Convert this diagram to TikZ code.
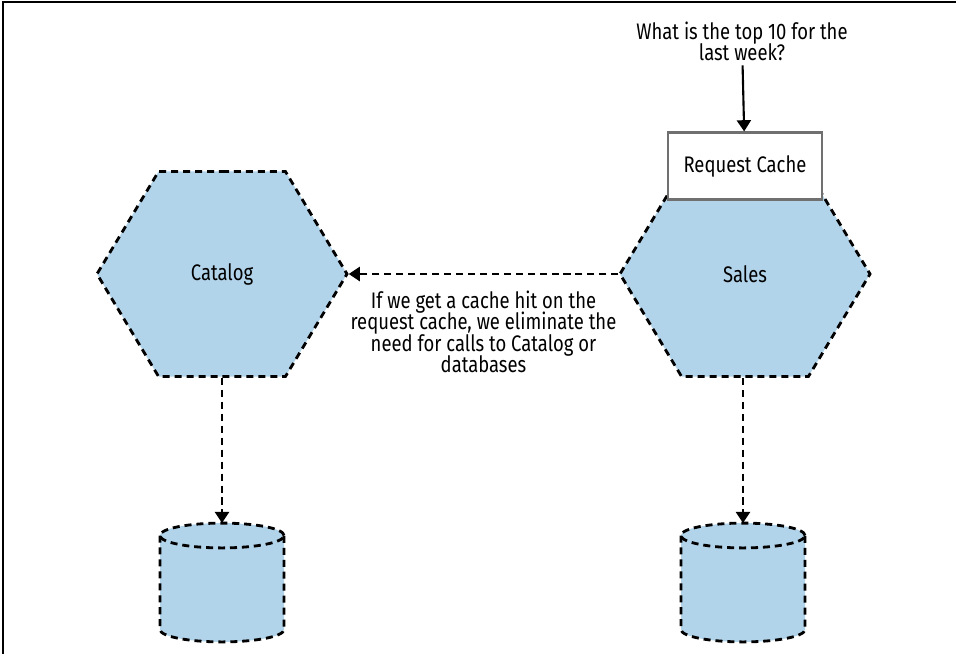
\documentclass[tikz,border=0pt]{standalone}
\usepackage{fontspec}
\setmainfont{Fira Sans}[FakeStretch=0.82]
\usepackage{tikz}
\usetikzlibrary{shapes.geometric, shapes.symbols, arrows.meta, positioning}
\definecolor{svcblue}{HTML}{B2D4EA}
\definecolor{cachegray}{HTML}{707070}

\begin{document}
\setlength{\lineskiplimit}{-10pt}
\begin{tikzpicture}[x=0.025cm, y=-0.025cm,
        every node/.style={font=\fontsize{16}{15}\selectfont, align=center},
        dashline/.style={dash pattern=on 5pt off 3.5pt, line width=2pt},
        service/.style={shape=signal, signal to=west and east, signal pointer angle=118,
              draw, dashline, fill=svcblue, minimum width=6.25cm, minimum height=5.125cm, inner sep=0pt},
        rim/.style={x radius=1.55cm, y radius=0.31cm},
        tip/.style={-{Triangle[length=8pt, width=10pt]}}]
    \useasboundingbox (0,0) rectangle (956,654);
    \draw[line width=1.2pt] (3,654) -- (3,2) -- (956,2);

    % services
    \node[service] (catalog) at (222,274) {Catalog};
    \node[service] (sales) at (745,274) {Sales};
    \node[draw=cachegray, line width=1.5pt, fill=white,
          minimum width=3.85cm, minimum height=1.675cm] (cache) at (745,166) {Request Cache};
    \node (question) at (742,41) {What is the top 10 for the\\last week?};

    % databases
    \foreach \cx/\db in {222/catalogdb, 743/salesdb} {
        \coordinate (\db) at (\cx,523);
        \fill[svcblue] (\cx-62,535.5) -- (\cx-62,629.5) arc[start angle=180, end angle=360, rim]
            -- (\cx+62,535.5) arc[start angle=0, end angle=180, rim] -- cycle;
        \draw[dashline] (\cx-62,535.5) -- (\cx-62,629.5) arc[start angle=180, end angle=360, rim]
            -- (\cx+62,535.5);
        \draw[dashline] (\cx,535.5) ellipse[rim];
    }

    \draw[line width=1.5pt, tip] (question) -- (cache);
    \draw[dashline, tip] (sales.west) -- (catalog.east)
        node[pos=0.5, below=8pt] (hitnote) {If we get a cache hit on the\\request cache, we eliminate the\\need for calls to Catalog or\\databases};
    \draw[dashline, tip] (catalog.south) -- (catalogdb);
    \draw[dashline, tip] (sales.south -| salesdb) -- (salesdb);
\end{tikzpicture}
\end{document}
